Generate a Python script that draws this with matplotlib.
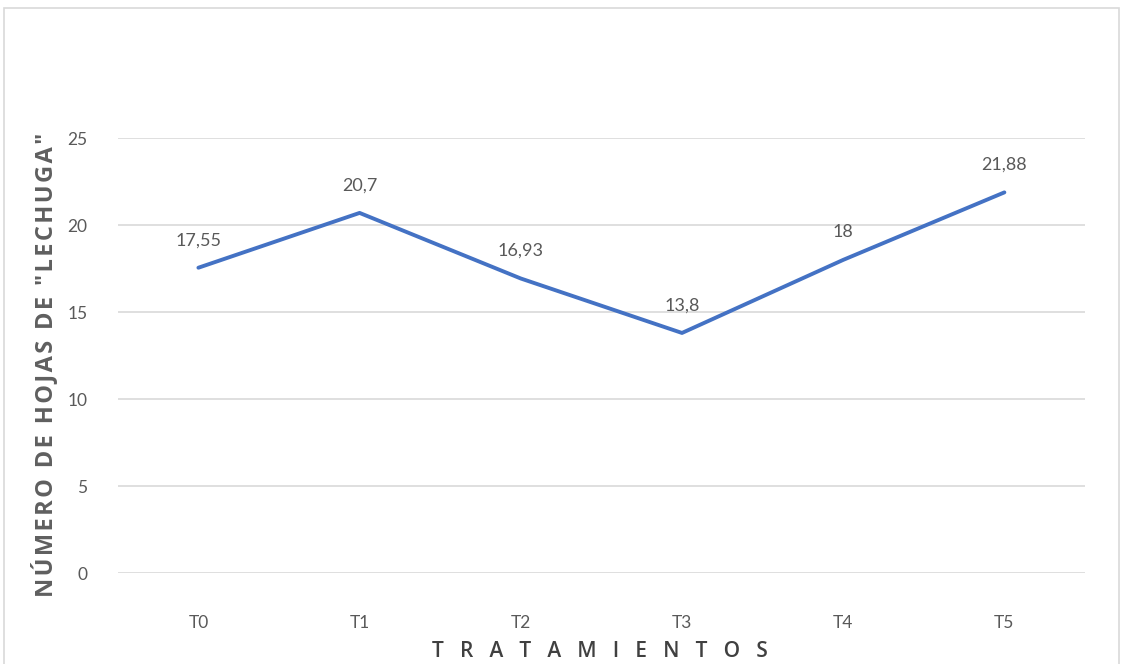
import matplotlib.pyplot as plt
from matplotlib.patches import Rectangle

# Leaf counts per treatment
tratamientos = ["T0", "T1", "T2", "T3", "T4", "T5"]
hojas = [17.55, 20.7, 16.93, 13.8, 18, 21.88]
etiquetas = ["17,55", "20,7", "16,93", "13,8", "18", "21,88"]
y_ticks = [0, 5, 10, 15, 20, 25]

plt.rcParams["font.family"] = ["Lato", "DejaVu Sans"]
gray = "#595959"

fig = plt.figure(figsize=(11.22, 6.64), dpi=100)
ax = fig.add_axes([0.105, 0.137, 0.862, 0.655])

# chart area border
fig.patches.append(
    Rectangle((0.004, -0.01), 0.993, 0.998, transform=fig.transFigure,
              fill=False, edgecolor="#d9d9d9", linewidth=1.2)
)

x = list(range(len(tratamientos)))
ax.plot(x, hojas, color="#4472c4", linewidth=2.8, solid_capstyle="round",
        solid_joinstyle="round", zorder=3)

for xi, yi, lab in zip(x, hojas, etiquetas):
    ax.annotate(lab, (xi, yi), xytext=(0, 14), textcoords="offset points",
                ha="center", va="bottom", fontsize=13, color=gray)

ax.set_xlim(-0.5, 5.5)
ax.set_ylim(0, 25)
ax.set_yticks(y_ticks)
ax.set_xticks(x)
ax.set_xticklabels(tratamientos)
ax.grid(axis="y", color="#d9d9d9", linewidth=1.2)
ax.set_axisbelow(True)
for side in ["top", "right", "left", "bottom"]:
    ax.spines[side].set_visible(False)
ax.tick_params(axis="both", length=0, labelsize=12.5, colors=gray)
ax.tick_params(axis="y", pad=22)
ax.tick_params(axis="x", pad=30)

# widen the tracking of the axis title with hair spaces
ylab = "\u200a".join('NÚMERO DE HOJAS DE "LECHUGA"')
ax.set_ylabel(ylab, fontsize=17, color="#5f5f5f",
              family=["Open Sans", "DejaVu Sans"], fontweight="bold")
ax.yaxis.set_label_coords(-0.062, 0.478)
fig.text(0.535, 0.003, "T   R   A   T   A   M   I   E   N   T   O   S",
         ha="center", va="bottom", fontsize=15, color="#404040",
         family=["Open Sans", "DejaVu Sans"], fontweight="semibold")

fig.savefig("out.png", dpi=100, facecolor="white")
